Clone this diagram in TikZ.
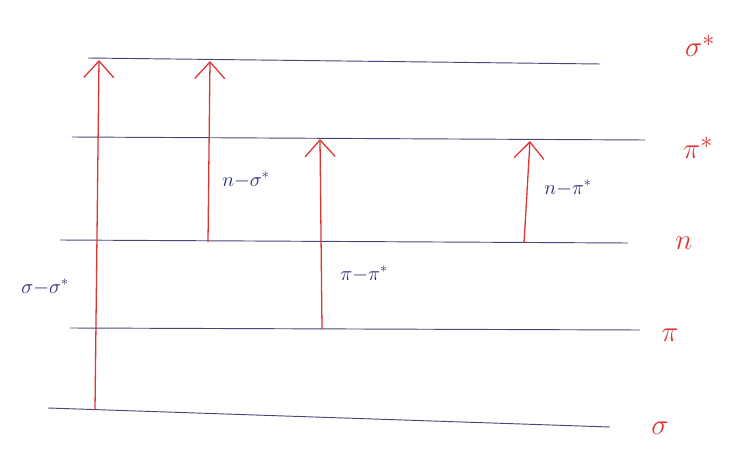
\documentclass[tikz,border=0pt]{standalone}
\usetikzlibrary{arrows.meta}
\definecolor{penred}{RGB}{222,52,52}
\definecolor{penblue}{RGB}{38,40,120}
\definecolor{rule}{RGB}{70,72,120}
\tikzset{
    level/.style={draw=rule, line width=0.8pt},
    trans/.style={draw=penred, line width=1.1pt, -{Straight Barb[length=5mm, width=9mm, line width=1.1pt]}},
    lvlname/.style={text=penred, font=\fontsize{30}{32}\selectfont},
    trname/.style={text=penblue, font=\fontsize{18}{20}\selectfont}
}
\begin{document}
\begin{tikzpicture}[x=0.03cm, y=-0.03cm]
\useasboundingbox (0,0) rectangle (747,450);

% Niveaus
\coordinate (ss1) at (88,58);  \coordinate (ss2) at (600,64);
\coordinate (ps1) at (72,137); \coordinate (ps2) at (645,140);
\coordinate (n1)  at (60,240); \coordinate (n2)  at (628,243);
\coordinate (p1)  at (70,328); \coordinate (p2)  at (640,330);
\coordinate (s1)  at (48,408); \coordinate (s2)  at (610,427);

\draw[level] (ss1) -- (ss2);
\draw[level] (ps1) -- (ps2);
\draw[level] (n1) -- (n2);
\draw[level] (p1) -- (p2);
\draw[level] (s1) -- (s2);

% Bezeichnungen rechts
\node[lvlname] (lss) at (700,46)  {$\sigma^{*}$};
\node[lvlname] (lps) at (698,148) {$\pi^{*}$};
\node[lvlname] (ln)  at (684,243) {$n$};
\node[lvlname] (lp)  at (670,335) {$\pi$};
\node[lvlname] (ls)  at (660,428) {$\sigma$};

% Uebergaenge
\coordinate (a1) at (95,410);  \coordinate (b1) at (99,60);
\coordinate (a2) at (208,242); \coordinate (b2) at (210,61);
\coordinate (a3) at (322,329); \coordinate (b3) at (320,139);
\coordinate (a4) at (524,243); \coordinate (b4) at (530,141);

\draw[trans] (a1) -- (b1);
\draw[trans] (a2) -- (b2);
\draw[trans] (a3) -- (b3);
\draw[trans] (a4) -- (b4);

\node[trname] (t1) at (45,287)  {$\sigma{-}\sigma^{*}$};
\node[trname] (t2) at (246,180) {$n{-}\sigma^{*}$};
\node[trname] (t3) at (364,274) {$\pi{-}\pi^{*}$};
\node[trname] (t4) at (568,188) {$n{-}\pi^{*}$};
\end{tikzpicture}
\end{document}
